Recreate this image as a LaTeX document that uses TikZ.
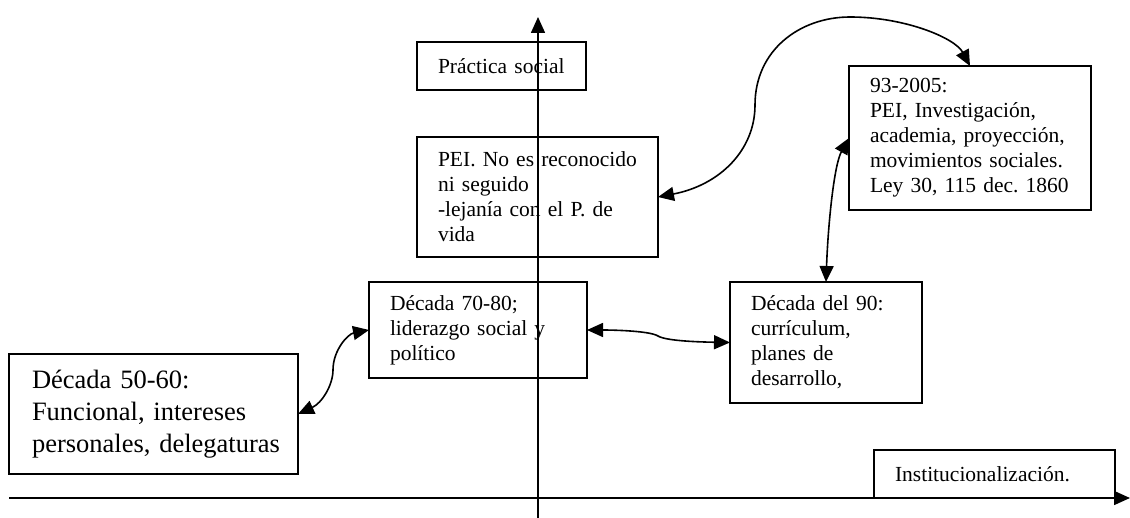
\documentclass[tikz,border=0pt]{standalone}
\usepackage{fontspec}
\setmainfont{Liberation Serif}
\usetikzlibrary{arrows.meta}
\frenchspacing
\begin{document}
\begin{tikzpicture}[x=1pt,y=-1pt,
  box/.style={draw,line width=1.6pt,inner xsep=21pt,inner ysep=0pt,align=left,anchor=north west,outer sep=0pt,
    font=\fontsize{21.5}{25}\selectfont},
  bigbox/.style={box,inner xsep=23pt,font=\fontsize{26.5}{32}\selectfont},
  tip/.style={-{Triangle[length=16pt,width=14pt]}},
  link/.style={line width=1.6pt,{Triangle[length=16pt,width=14pt]}-{Triangle[length=16pt,width=14pt]}},
  axis/.style={line width=1.6pt,tip}]
\useasboundingbox (0,0) rectangle (1130,518);
% axes
\coordinate (hx0) at (9,498);
\coordinate (hx1) at (1130,498);
\coordinate (vy0) at (538,518);
\coordinate (vy1) at (538,17);
\draw[axis] (hx0) -- (hx1);
\draw[axis] (vy0) -- (vy1);
% boxes
\node[box,text width=127pt,minimum height=48pt] (ps) at (417,42) {Práctica social};
\node[box,text width=199pt,minimum height=120pt] (pei) at (417,137)
  {\mbox{PEI. No es reconocido}\\ni seguido\\\mbox{-lejanía con el P. de}\\vida};
\node[box,text width=200pt,minimum height=144pt] (n93) at (849,66)
  {93-2005:\\\mbox{PEI, Investigación,}\\\mbox{academia, proyección,}\\\mbox{movimientos sociales.}\\\mbox{Ley 30, 115 dec. 1860}};
\node[box,text width=176pt,minimum height=96pt] (n70) at (369,282)
  {Década 70-80;\\\mbox{liderazgo social y}\\político};
\node[box,text width=150pt,minimum height=121pt] (n90) at (730,282)
  {\mbox{Década del 90:}\\currículum,\\planes de\\desarrollo,};
\node[bigbox,text width=243pt,minimum height=120pt] (n50) at (9,354)
  {Década 50-60:\\\mbox{Funcional, intereses}\\\mbox{personales, delegaturas}};
\node[box,text width=199pt,minimum height=48pt] (inst) at (874,450) {Institucionalización.};
% connectors
\draw[link] (n50.east) .. controls (322,403) and (333,385) .. (333,370)
  .. controls (333,350) and (348,334) .. (n70.west);
\draw[link] (n70.east) .. controls (615,330) and (650,331) .. (658,336)
  .. controls (666,341) and (700,342) .. (n90.west);
\draw[link] (pei.east) .. controls (720,185) and (755,150) .. (755,105)
  .. controls (755,50) and (800,17) .. (850,17)
  .. controls (905,17) and (955,38) .. (n93.north);
\draw[link] (n90.north) .. controls (828,225) and (834,165) .. (n93.west);
\end{tikzpicture}
\end{document}
